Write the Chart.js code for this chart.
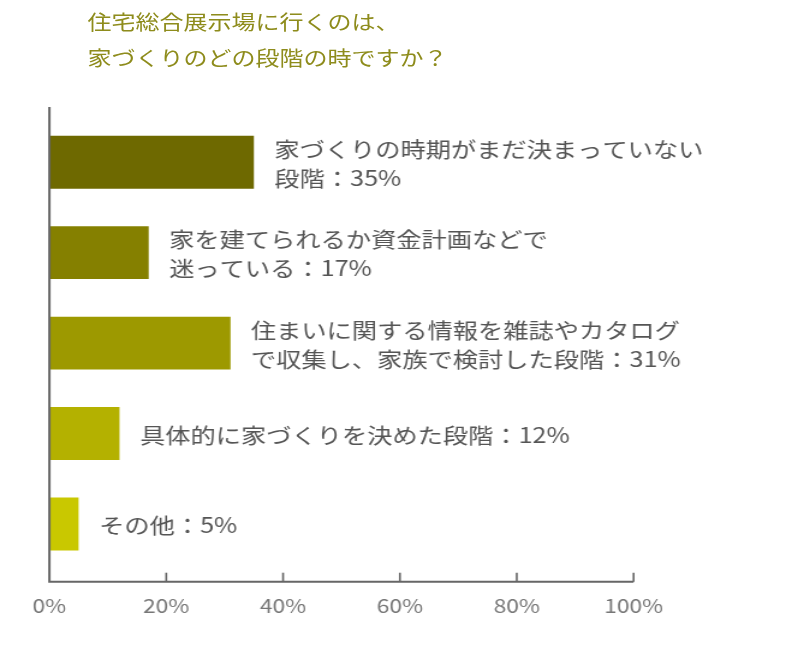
<!DOCTYPE html>
<html><head><meta charset="utf-8">
<script src="https://cdn.jsdelivr.net/npm/chart.js@4"></script>
<style>
html,body{margin:0;padding:0;background:#fff;overflow:hidden;width:800px;height:667px}
#wrap{position:absolute;left:0;top:0;width:666.67px;height:667px;transform:scaleX(1.2);transform-origin:0 0}
#title{position:absolute;left:73px;top:4px;font-family:"Noto Sans CJK JP";font-size:20px;line-height:36px;color:#8e8c1c;white-space:nowrap}
#cw{position:absolute;left:0;top:0;width:666.67px;height:667px}
</style></head>
<body>
<div id="wrap">
<div id="title">住宅総合展示場に行くのは、<br>家づくりのどの段階の時ですか？</div>
<div id="cw"><canvas id="c"></canvas></div>
</div>
<script>
const categories = [
  ["家づくりの時期がまだ決まっていない", "段階"],
  ["家を建てられるか資金計画などで", "迷っている"],
  ["住まいに関する情報を雑誌やカタログ", "で収集し、家族で検討した段階"],
  ["具体的に家づくりを決めた段階"],
  ["その他"]
];
const values = [35, 17, 31, 12, 5];
const barColors = ["#6e6900", "#858000", "#9d9900", "#b4b100", "#c9c800"];
const xTicks = [0, 20, 40, 60, 80, 100];

const FONT = '"Noto Sans CJK JP", "Noto Sans", sans-serif';

const axisPlugin = {
  id: 'axisLines',
  afterDatasetsDraw(chart) {
    const ctx = chart.ctx, xs = chart.scales.x, ca = chart.chartArea;
    const x0 = xs.getPixelForValue(0);
    const yTop = ca.top - 10, yBot = ca.bottom + 12.5;
    ctx.save();
    ctx.strokeStyle = '#666';
    ctx.lineWidth = 2;
    ctx.beginPath();
    ctx.moveTo(x0, yTop);
    ctx.lineTo(x0, yBot);
    ctx.lineTo(xs.getPixelForValue(100), yBot);
    ctx.stroke();
    ctx.lineWidth = 1.6;
    xTicks.slice(1).forEach(v => {
      const px = xs.getPixelForValue(v);
      ctx.beginPath();
      ctx.moveTo(px, yBot);
      ctx.lineTo(px, yBot - 9);
      ctx.stroke();
    });
    ctx.restore();
  }
};

const labelPlugin = {
  id: 'barLabels',
  afterDatasetsDraw(chart) {
    const ctx = chart.ctx;
    const meta = chart.getDatasetMeta(0);
    ctx.save();
    ctx.font = '21px ' + FONT;
    ctx.fillStyle = '#555';
    ctx.textAlign = 'left';
    ctx.textBaseline = 'middle';
    meta.data.forEach((bar, i) => {
      const lines = categories[i].slice();
      lines[lines.length - 1] = lines[lines.length - 1] + '：' + values[i] + '%';
      const lh = 29;
      const startY = bar.y + 1 - (lines.length - 1) * lh / 2;
      lines.forEach((t, j) => ctx.fillText(t, bar.x + 17, startY + j * lh));
    });
    ctx.restore();
  }
};

new Chart(document.getElementById('c'), {
  type: 'bar',
  data: {
    labels: categories.map(c => c.join('')),
    datasets: [{
      data: values,
      backgroundColor: barColors,
      borderWidth: 0,
      barPercentage: 0.585,
      categoryPercentage: 1
    }]
  },
  options: {
    indexAxis: 'y',
    responsive: true,
    maintainAspectRatio: false,
    animation: false,
    layout: { padding: { left: 41.1, right: 139.5, top: 117, bottom: 24 } },
    plugins: { legend: { display: false }, tooltip: { enabled: false }, title: { display: false } },
    scales: {
      x: {
        min: 0, max: 100,
        afterBuildTicks(scale) { scale.ticks = xTicks.map(v => ({ value: v })); },
        ticks: {
          callback: v => v + '%',
          color: '#777',
          font: { family: FONT, size: 19 },
          padding: 25.5,
          maxRotation: 0
        },
        grid: { display: false, drawTicks: false },
        border: { display: false }
      },
      y: { display: false }
    }
  },
  plugins: [axisPlugin, labelPlugin]
});
</script>
</body></html>
